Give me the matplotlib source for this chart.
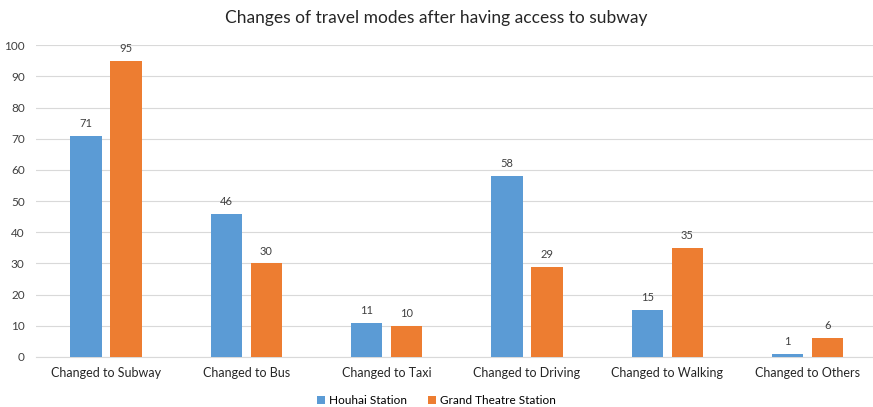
import numpy as np
import matplotlib.pyplot as plt

plt.rcParams['font.family'] = ['Lato', 'DejaVu Sans']

# survey counts per change in travel mode
categories = ['Changed to Subway', 'Changed to Bus', 'Changed to Taxi',
              'Changed to Driving', 'Changed to Walking', 'Changed to Others']
houhai = [71, 46, 11, 58, 15, 1]
grand_theatre = [95, 30, 10, 29, 35, 6]
series_names = ['Houhai Station', 'Grand Theatre Station']

blue = '#5B9BD5'
orange = '#ED7D31'
grid_col = '#D9D9D9'
text_col = '#404040'

fig = plt.figure(figsize=(8.73, 4.07), dpi=100)
ax = fig.add_axes([0.041, 0.123, 0.9645, 0.766])

x = np.arange(len(categories))
w = 0.222
b1 = ax.bar(x - 0.1425, houhai, w, color=blue, label=series_names[0], zorder=3)
b2 = ax.bar(x + 0.1425, grand_theatre, w, color=orange, label=series_names[1], zorder=3)

# value labels above each bar
for bars in (b1, b2):
    for r in bars:
        ax.text(r.get_x() + r.get_width() / 2, r.get_height() + 2.2,
                '{0}'.format(int(r.get_height())), ha='center', va='bottom',
                fontsize=8, color=text_col)

ax.set_xlim(-0.5, len(categories) - 0.5)
ax.set_ylim(0, 100)
ax.set_yticks(np.arange(0, 101, 10))
ax.yaxis.grid(True, color=grid_col, linewidth=0.8, zorder=0)
for s in ['top', 'right', 'left']:
    ax.spines[s].set_visible(False)
ax.spines['bottom'].set_color(grid_col)
ax.tick_params(axis='both', length=0, colors=text_col)
ax.tick_params(axis='y', labelsize=8.5, pad=8)
ax.tick_params(axis='x', labelsize=9, pad=7)
ax.set_xticks(x)
ax.set_xticklabels(categories, color='#262626')

fig.text(0.5, 0.955, 'Changes of travel modes after having access to subway',
         ha='center', va='center', fontsize=12.5, color='#262626')

fig.legend(loc='center', bbox_to_anchor=(0.5, 0.015), ncol=2, frameon=False,
           fontsize=8.5, handlelength=0.7, handleheight=0.7, columnspacing=1.8,
           handletextpad=0.3)

fig.savefig('out.png', dpi=100)
